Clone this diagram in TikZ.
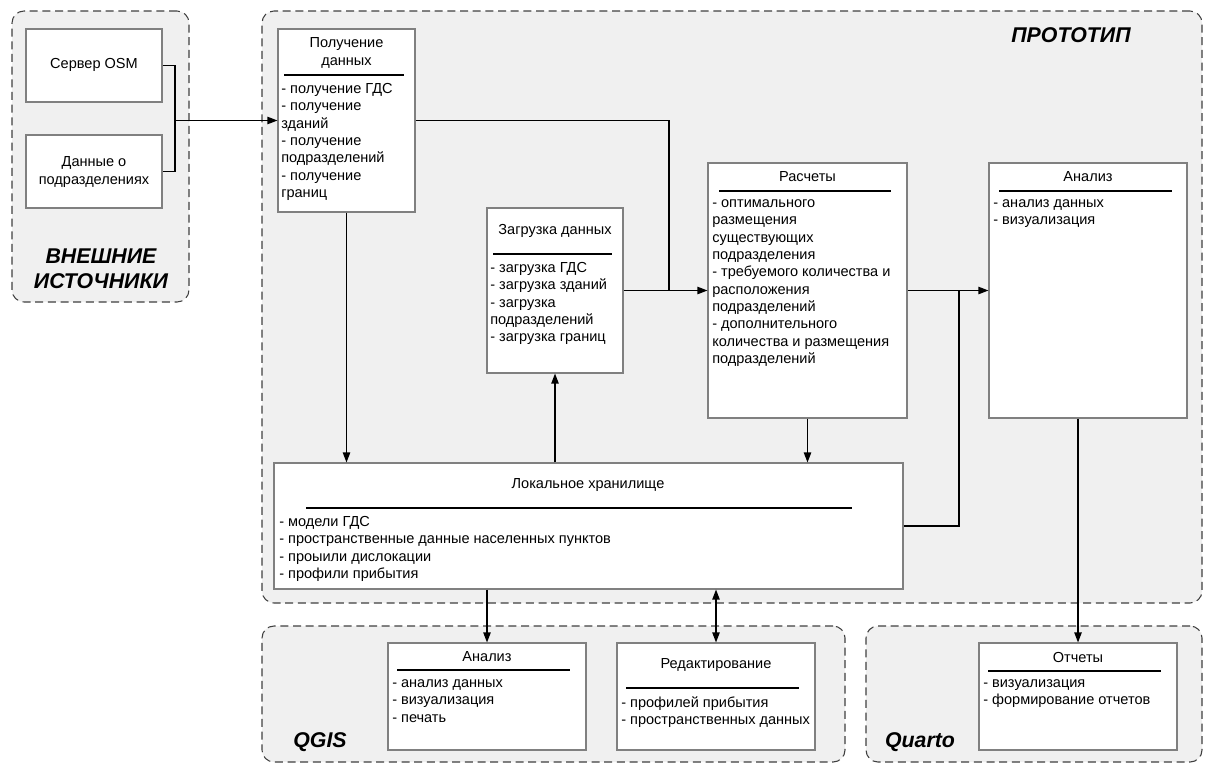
\documentclass[tikz,border=0pt]{standalone}
\usepackage{fontspec}
\setmainfont{Liberation Sans}
\usepackage{tikz}
\usetikzlibrary{arrows.meta, positioning, calc, fit}

\definecolor{grpfill}{HTML}{F0F0F0}
\definecolor{grpline}{HTML}{404040}
\definecolor{boxline}{HTML}{808080}

\begin{document}
\begin{tikzpicture}[
    x=0.75pt, y=-0.75pt,
    grp/.style={draw=grpline, fill=grpfill, dash pattern=on 6pt off 3.5pt, rounded corners=9pt, line width=0.8pt, inner sep=0pt},
    grplabel/.style={font=\fontsize{16}{19}\selectfont\bfseries\itshape, align=center},
    blk/.style={draw=boxline, fill=white, line width=0.8pt, inner sep=0pt},
    ttl/.style={font=\fontsize{10.9}{13}\selectfont, align=center},
    lst/.style={font=\fontsize{10.9}{13}\selectfont, align=left, anchor=north west, inner sep=0pt},
    sep/.style={draw=black, line width=0.8pt},
    link/.style={draw=black, line width=0.9pt},
    arrow/.style={link, -{Triangle[length=7.5pt, width=5.5pt]}},
    darrow/.style={link, {Triangle[length=7.5pt, width=5.5pt]}-{Triangle[length=7.5pt, width=5.5pt]}}
]
\useasboundingbox (0,0) rectangle (1205,764);

% Groups
\node[grp, fit={(12,11) (189,302)}] (ext) {};
\node[grp, fit={(262,11) (1202,603)}] (proto) {};
\node[grp, fit={(262,626) (845,762)}] (qgis) {};
\node[grp, fit={(866,626) (1202,762)}] (quarto) {};

\node[grplabel] (extT) at (101,269) {ВНЕШНИЕ\\ИСТОЧНИКИ};
\node[grplabel] (protoT) at (1071,35) {ПРОТОТИП};
\node[grplabel] (qgisT) at (320,742) {QGIS};
\node[grplabel] (quartoT) at (920,742) {Quarto};

% External sources
\node[blk, fit={(26,29) (162,102)}] (osm) {};
\node[ttl] (osmT) at (94,65) {Сервер OSM};
\node[blk, fit={(26,135) (162,208)}] (dat) {};
\node[ttl] (datT) at (94,172) {Данные о\\подразделениях};

% Getting data
\node[blk, fit={(278,29) (415,212)}] (poluch) {};
\node[ttl] (poluchT) at (346.5,53) {Получение\\данных};
\draw[sep] (284,75) -- (404,75);
\node[lst] (poluchL) at (281,83) {- получение ГДС\\- получение\\зданий\\- получение\\подразделений\\- получение\\границ};

% Loading data
\node[blk, fit={(487,208) (623,373)}] (zagr) {};
\node[ttl] (zagrT) at (555,231) {Загрузка данных};
\draw[sep] (493,254) -- (612,254);
\node[lst] (zagrL) at (490,262) {- загрузка ГДС\\- загрузка зданий\\- загрузка\\подразделений\\- загрузка границ};

% Calculations
\node[blk, fit={(708,163) (907,418)}] (rasch) {};
\node[ttl] (raschT) at (807.5,177) {Расчеты};
\draw[sep] (719,191) -- (891,191);
\node[lst] (raschL) at (712,199.5) {- оптимального\\размещения\\существующих\\подразделения\\- требуемого количества и\\расположения\\подразделений\\- дополнительного\\количества и размещения\\подразделений};

% Analysis
\node[blk, fit={(989,163) (1187,418)}] (anal) {};
\node[ttl] (analT) at (1088,177) {Анализ};
\draw[sep] (999,191) -- (1172,191);
\node[lst] (analL) at (993,199.5) {- анализ данных\\- визуализация};

% Local storage
\node[blk, fit={(274,463) (903,589)}] (lokal) {};
\node[ttl] (lokalT) at (588,485) {Локальное хранилище};
\draw[sep] (306,508) -- (852,508);
\node[lst] (lokalL) at (279,516) {- модели ГДС\\- пространственные данные населенных пунктов\\- проыили дислокации\\- профили прибытия};

% QGIS
\node[blk, fit={(388,643) (586,750)}] (qanal) {};
\node[ttl] (qanalT) at (487,657) {Анализ};
\draw[sep] (397,670) -- (570,670);
\node[lst] (qanalL) at (392,679.5) {- анализ данных\\- визуализация\\- печать};

\node[blk, fit={(617,643) (815,750)}] (red) {};
\node[ttl] (redT) at (716,665) {Редактирование};
\draw[sep] (626,688) -- (799,688);
\node[lst] (redL) at (621,696.5) {- профилей прибытия\\- пространственных данных};

% Quarto
\node[blk, fit={(979,643) (1177,750)}] (otch) {};
\node[ttl] (otchT) at (1078,657) {Отчеты};
\draw[sep] (988,671) -- (1161,671);
\node[lst] (otchL) at (983,679.5) {- визуализация\\- формирование отчетов};

% Connectors
\coordinate (j0) at (175,120.5);
\draw[link] (osm.east) -| (j0) |- (dat.east);
\draw[arrow] (j0) -- (poluch.west);

\coordinate (j1) at (669,290.5);
\draw[link] (poluch.east) -| (j1);
\draw[link] (zagr.east) -- (j1);
\draw[arrow] (j1) -- (rasch.west);

\coordinate (j2) at (959,290.5);
\draw[arrow] (rasch.east) -- (anal.west);
\draw[link] (lokal.east) -| (j2);

\draw[arrow] (poluch.south) -- (poluch.south |- lokal.north);
\draw[arrow] (zagr.south |- lokal.north) -- (zagr.south);
\draw[arrow] (rasch.south) -- (rasch.south |- lokal.north);
\draw[arrow] (otch.north |- anal.south) -- (otch.north);
\draw[arrow] (qanal.north |- lokal.south) -- (qanal.north);
\draw[darrow] (red.north |- lokal.south) -- (red.north);

\end{tikzpicture}
\end{document}
